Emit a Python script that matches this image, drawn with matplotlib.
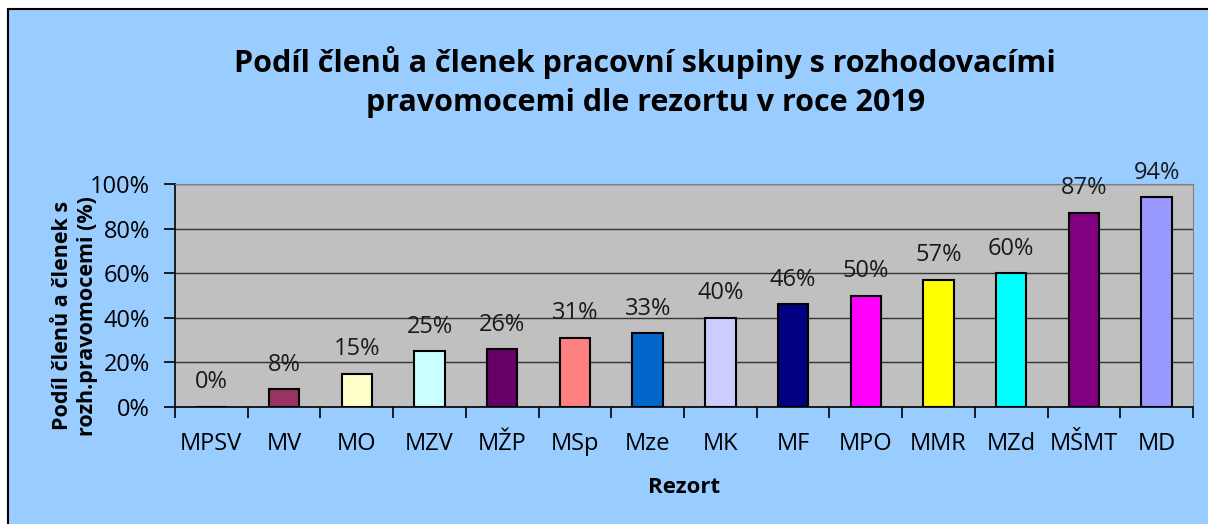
#Libraries
import matplotlib.pyplot as plt
from matplotlib.patches import Rectangle

#Data
rezorty=['MPSV','MV','MO','MZV','MŽP','MSp','Mze','MK','MF','MPO','MMR','MZd','MŠMT','MD']
podil=[0,8,15,25,26,31,33,40,46,50,57,60,87,94]
barvy=['#C0C0C0','#993366','#FFFFCC','#CCFFFF','#660066','#FF8080','#0066CC',
       '#CCCCFF','#000080','#FF00FF','#FFFF00','#00FFFF','#800080','#9999FF']
yticks=[0,20,40,60,80,100]

plt.rcParams['font.family']=['Open Sans','DejaVu Sans']

#Figure with blue background and frame
fig=plt.figure(figsize=(12.08,5.24),dpi=100,facecolor='white')
fig.patches.append(Rectangle((8/1208,-0.05),1.1,1-9/524+0.05,transform=fig.transFigure,
                             facecolor='#99CCFF',edgecolor='black',linewidth=1.5,zorder=-10))

ax=fig.add_axes([175/1208,1-407/524,(1193-175)/1208,(407-184)/524])
ax.set_facecolor('#C0C0C0')

x=list(range(len(rezorty)))
bars=ax.bar(x,podil,width=0.42,color=barvy,edgecolor='black',linewidth=1.5,zorder=3)
ax.bar_label(bars,labels=[f'{v}%' for v in podil],padding=9,fontsize=17,color='#1a1a1a')

ax.set_xlim(-0.5,len(rezorty)-0.5)
ax.set_ylim(0,100)
ax.set_yticks(yticks)
ax.set_yticklabels([f'{v}%' for v in yticks],fontsize=17)
ax.yaxis.grid(True,color='#333333',linewidth=1,zorder=0)

ax.set_xticks([i-0.5 for i in range(len(rezorty)+1)])
ax.set_xticklabels([])
ax.set_xticks(x,minor=True)
ax.set_xticklabels(rezorty,minor=True,fontsize=17)
ax.tick_params(axis='x',which='major',length=8,width=1.2,direction='out')
ax.tick_params(axis='x',which='minor',length=0,pad=18)
ax.tick_params(axis='y',length=8,width=1.2,direction='out',pad=10)

for s in ['top','right']:
    ax.spines[s].set_color('#808080')
for s in ['left','bottom']:
    ax.spines[s].set_color('black')
    ax.spines[s].set_linewidth(1.2)

ax.set_xlabel('Rezort',fontsize=16,fontweight='bold',labelpad=15)
ax.set_ylabel('Podíl členů a členek s\nrozh.pravomocemi (%)',fontsize=15.5,fontweight='bold',
              va='center',ha='center',linespacing=1.25)
ax.yaxis.set_label_coords(-0.098,0.41)

fig.text(0.534,1-82/524,'Podíl členů a členek pracovní skupiny s rozhodovacími\npravomocemi dle rezortu v roce 2019',
         ha='center',va='center',fontsize=22,fontweight='bold',linespacing=1.4)

fig.savefig('out.png',dpi=100,facecolor=fig.get_facecolor())
